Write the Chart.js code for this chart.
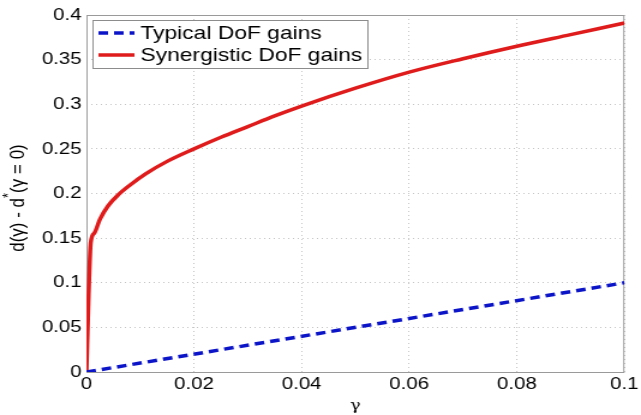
<!DOCTYPE html>
<html>
<head>
<meta charset="utf-8">
<script src="https://cdn.jsdelivr.net/npm/chart.js@4.4.0/dist/chart.umd.min.js"></script>
<style>
  html, body { margin: 0; padding: 0; background: #fff; }
  /* the original figure is a bit wider than tall, so the canvas is stretched */
  #gainChart { width: 641px; height: 415px; display: block; }
</style>
</head>
<body>
<canvas id="gainChart" width="534" height="415" style="width:641px;height:415px"></canvas>
<script>
// values
const typicalX = [0, 0.1];
const typicalY = [0, 0.1];

const synergX = [0, 0.0004, 0.0008, 0.0015, 0.0025, 0.004, 0.006, 0.008, 0.011, 0.015,
                 0.02, 0.025, 0.03, 0.035, 0.04, 0.05, 0.06, 0.07, 0.08, 0.09, 0.1];
const synergY = [0, 0.085, 0.145, 0.156, 0.171, 0.186, 0.199, 0.209, 0.222, 0.236,
                 0.25, 0.263, 0.275, 0.287, 0.298, 0.318, 0.336, 0.351, 0.365, 0.378, 0.391];

const xTicks = [0, 0.02, 0.04, 0.06, 0.08, 0.1];
const yTicks = [0, 0.05, 0.1, 0.15, 0.2, 0.25, 0.3, 0.35, 0.4];

const seriesLabels = ['Typical DoF gains', 'Synergistic DoF gains'];

const FONT = '"Liberation Sans", Arial, sans-serif';
const fmt = v => String(Number(v.toFixed(3)));
const toPts = (xs, ys) => xs.map((x, i) => ({ x: x, y: ys[i] }));

// axes box, y title and in-plot legend (MATLAB style)
const matlabBits = {
    id: 'matlabBits',
    beforeDatasetsDraw(chart) {
        const { ctx, chartArea: a } = chart;
        ctx.save();
        ctx.strokeStyle = '#9a9a9a';
        ctx.lineWidth = 1;
        ctx.strokeRect(a.left + 0.5, a.top + 0.5, a.right - a.left - 1, a.bottom - a.top);
        ctx.restore();
    },
    afterDraw(chart) {
        const { ctx } = chart;
        // y axis title with superscript star
        ctx.save();
        ctx.translate(15, 198);
        ctx.rotate(-Math.PI / 2);
        ctx.fillStyle = '#000';
        ctx.textBaseline = 'middle';
        const p1 = 'd(γ) - d', p3 = '(γ = 0)';
        ctx.font = '17px ' + FONT;
        const w1 = ctx.measureText(p1).width, w3 = ctx.measureText(p3).width;
        ctx.font = '13px ' + FONT;
        const w2 = ctx.measureText('*').width;
        let x = -(w1 + w2 + w3) / 2;
        ctx.font = '17px ' + FONT;
        ctx.textAlign = 'left';
        ctx.fillText(p1, x, 0);
        x += w1;
        ctx.font = '13px ' + FONT;
        ctx.fillText('*', x, -8);
        x += w2;
        ctx.font = '17px ' + FONT;
        ctx.fillText(p3, x, 0);
        ctx.restore();

        // legend
        ctx.save();
        const bx = 77, by = 20, bw = 229, bh = 48;
        ctx.fillStyle = '#fff';
        ctx.fillRect(bx, by, bw, bh);
        ctx.strokeStyle = '#8c8c8c';
        ctx.lineWidth = 1;
        ctx.strokeRect(bx + 0.5, by + 0.5, bw, bh);
        ctx.font = '19px ' + FONT;
        ctx.fillStyle = '#000';
        ctx.textBaseline = 'middle';
        chart.data.datasets.forEach((ds, i) => {
            const y = 33 + i * 22;
            ctx.beginPath();
            ctx.strokeStyle = ds.borderColor;
            ctx.lineWidth = ds.borderWidth;
            ctx.setLineDash(ds.borderDash || []);
            ctx.moveTo(82, y);
            ctx.lineTo(112, y);
            ctx.stroke();
            ctx.setLineDash([]);
            ctx.fillText(ds.label, 117, y + 1);
        });
        ctx.restore();
    }
};

new Chart(document.getElementById('gainChart'), {
    type: 'scatter',
    data: {
        datasets: [
            {
                label: seriesLabels[0],
                data: toPts(typicalX, typicalY),
                showLine: true,
                borderColor: '#0c14c8',
                borderWidth: 3.5,
                borderDash: [8, 5],
                pointRadius: 0,
                tension: 0
            },
            {
                label: seriesLabels[1],
                data: toPts(synergX, synergY),
                showLine: true,
                borderColor: '#df1b1b',
                borderWidth: 3.5,
                pointRadius: 0,
                cubicInterpolationMode: 'monotone'
            }
        ]
    },
    options: {
        responsive: false,
        devicePixelRatio: 1,
        animation: false,
        layout: { padding: { top: 15, right: 12, left: 0, bottom: 0 } },
        plugins: {
            legend: { display: false },
            tooltip: { enabled: false }
        },
        scales: {
            x: {
                type: 'linear',
                min: 0,
                max: 0.1,
                afterBuildTicks: s => { s.ticks = xTicks.map(v => ({ value: v })); },
                afterFit: s => { s.height = 43; },
                ticks: {
                    callback: v => fmt(v),
                    color: '#000',
                    font: { family: FONT, size: 17 },
                    padding: 2,
                    maxRotation: 0
                },
                grid: { color: '#c4c4c4', drawTicks: false },
                border: { display: false, dash: [1, 3] },
                title: {
                    display: true,
                    text: 'γ',
                    color: '#000',
                    font: { family: '"DejaVu Serif", serif', size: 15 },
                    padding: { top: -5, bottom: 0 }
                }
            },
            y: {
                type: 'linear',
                min: 0,
                max: 0.4,
                afterBuildTicks: s => { s.ticks = yTicks.map(v => ({ value: v })); },
                afterFit: s => { s.width = 72; },
                ticks: {
                    callback: v => fmt(v),
                    color: '#000',
                    font: { family: FONT, size: 17 },
                    padding: 4
                },
                grid: { color: '#c4c4c4', drawTicks: false },
                border: { display: false, dash: [1, 3] }
            }
        }
    },
    plugins: [matlabBits]
});
</script>
</body>
</html>
